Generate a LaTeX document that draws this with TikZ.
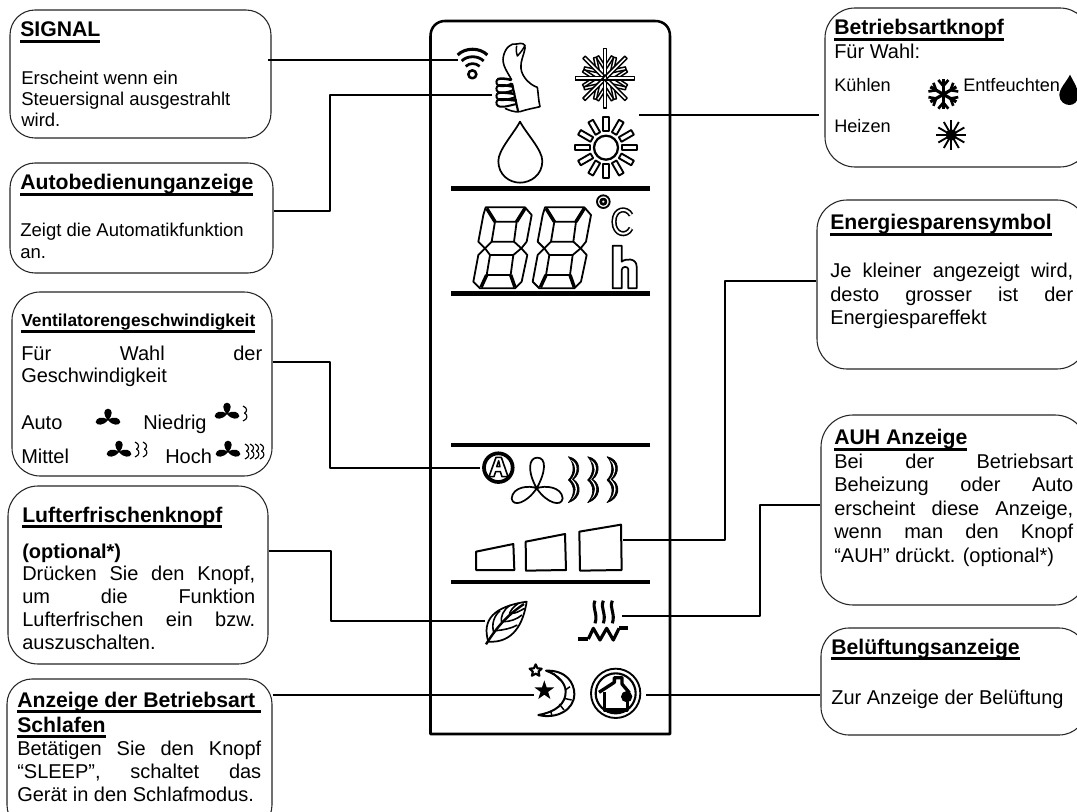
\documentclass[tikz,border=0pt]{standalone}
\usepackage{fontspec}
\setmainfont{Liberation Sans}
\usetikzlibrary{fit}
\newdimen\pxu \pxu=.75pt
\newcommand\ulin[1]{\setbox0\hbox{#1}\leavevmode\rlap{\raisebox{-4.2pt}{\rule{\wd0}{1.8pt}}}\box0}
% justified line: width in px, words separated by \hfill
\newcommand\jl[2]{\hbox to \dimexpr #1\pxu\relax{#2}}
\newcommand\para[7]{\node[txt] (#1) at (#2,#3) {\parbox[t]{260\pxu}{\fontsize{#4}{#5}\selectfont #6#7}};}
\newcommand\ttl[4]{\node[txt,font=\fontsize{15.9}{18}\selectfont\bfseries] (#1) at (#2,#3) {\ulin{#4}};}
\newcommand\fanfill[3]{\begin{scope}[shift={(#1,#2)},x=#3*0.25pt,y=-#3*0.25pt]
 \fill (0,0) .. controls (-30,-28) and (-26,-62) .. (0,-64) .. controls (26,-62) and (30,-28) .. (0,0)
  .. controls (35,-25) and (66,-12) .. (70,12) .. controls (62,34) and (25,32) .. (0,0)
  .. controls (-25,32) and (-62,34) .. (-70,12) .. controls (-66,-12) and (-35,-25) .. (0,0);
 \end{scope}}
\newcommand\wv[2]{\draw[line width=.85pt] (#1,#2-7) .. controls (#1+5,#2-5) and (#1+4,#2-1) .. (#1+1.5,#2) .. controls (#1+5,#2+2) and (#1+5,#2+6) .. (#1,#2+8);}
\newcommand\wave[1]{\begin{scope}[xshift=#1*0.25pt]
  \filldraw[fill=black,line width=.5pt] (445,80) .. controls (484,88) and (484,130) .. (460,148) .. controls (487,165) and (484,205) .. (445,218) .. controls (464,196) and (466,168) .. (445,150) .. controls (464,132) and (464,100) .. (445,80);
  \fill[white] (453,90) .. controls (475,100) and (475,128) .. (455,148) .. controls (477,165) and (475,192) .. (455,208) .. controls (470,190) and (472,168) .. (453,149) .. controls (470,130) and (470,105) .. (453,90);
 \end{scope}}
\tikzset{
 panel/.style={draw=black!85,line width=.8pt,rounded corners=#1,inner sep=0pt},
 panel/.default=25\pxu,
 txt/.style={anchor=base west,inner sep=0pt,align=left},
 conn/.style={line width=1.1pt,black},
 sep/.style={line width=3.6pt,black},
 lcd/.style={line width=1.35pt,black,line join=round},
 lcdthick/.style={line width=2.6pt,black},
}
\begin{document}
\begin{tikzpicture}[x=.75pt,y=-.75pt,line join=round]
\clip (0,0) rectangle (1077,812);
\fill[white] (0,0) rectangle (1077,812);

% ---- remote frame
\draw[line width=1.9pt] (430.5,734) -- (430.5,36) .. controls (430.5,27) and (437,21) .. (445,21) -- (655,21) .. controls (664,21) and (670,27) .. (670,36) -- (670,734) -- cycle;

% ---- boxes
\node[panel,fit={(10,10) (271,138)}] (bsignal) {};
\node[panel,fit={(10,163) (273,273)}] (bauto) {};
\node[panel=28\pxu,fit={(12,292) (272,476)}] (bvent) {};
\node[panel=30\pxu,fit={(8,486) (268,664)}] (bluft) {};
\node[panel=25\pxu,fit={(7,679) (272,830)}] (bsleep) {};
\node[panel=30\pxu,fit={(825,8) (1090,167)}] (bmode) {};
\node[panel=30\pxu,fit={(817,200) (1087,369)}] (bener) {};
\node[panel=32\pxu,fit={(821,415) (1087,605)}] (bauh) {};
\node[panel=28\pxu,fit={(821,628) (1087,735)}] (bbel) {};

% ---- connector end points
\coordinate (iwifi) at (458,60);
\coordinate (ithumb) at (492,95);
\coordinate (imode) at (639,115);
\coordinate (imodeb) at (819,115);
\coordinate (ia) at (480,468);
\coordinate (ibar) at (623,540);
\coordinate (ileaf) at (485,621);
\coordinate (iheat) at (622,616);
\coordinate (imoon) at (534,695);
\coordinate (ihouse) at (646,695);
\draw[conn] (268,60) -- (iwifi);
\draw[conn] (bauto.east |- 0,211) -| (330,95) -- (ithumb);
\draw[conn] (bvent.east |- 0,362) -| (330,468) -- (ia);
\draw[conn] (bluft.east |- 0,551) -| (331,621) -- (ileaf);
\draw[conn] (bsleep.east |- 0,695) -- (imoon);
\draw[conn] (imodeb) -- (imode);
\draw[conn] (bener.west |- 0,281) -| (725,540) -- (ibar);
\draw[conn] (bauh.west |- 0,505) -| (760,616) -- (iheat);
\draw[conn] (bbel.west |- 0,695) -- (ihouse);

% ---- separators
\draw[sep] (451,188.5) -- (650,188.5);
\draw[sep] (451,293.5) -- (650,293.5);
\draw[sep] (451,445) -- (650,445);
\draw[sep] (451,582) -- (650,582);

% ---- icons, upper part (coordinates of a 3x crop)
\begin{scope}[shift={(420,0)},x=.25pt,y=-.25pt]
 % wifi
 \draw[line width=2.3pt] (113,165) .. controls (135,142) and (180,142) .. (202,165);
 \draw[line width=2.1pt] (125,183) .. controls (142,166) and (174,166) .. (191,183);
 \draw[line width=2pt] (137,199) .. controls (150,188) and (166,188) .. (179,199);
 \draw[line width=1.9pt] (157,223) circle[radius=12];
 % thumb
 \draw[line width=1.2pt] (275,240) .. controls (262,215) and (245,195) .. (250,170) .. controls (255,145) and (272,128) .. (290,132) .. controls (305,128) and (318,130) .. (315,145) .. controls (312,165) and (300,185) .. (303,205) .. controls (305,230) and (330,255) .. (352,262) .. controls (355,280) and (355,300) .. (360,320) .. controls (340,325) and (320,328) .. (300,335) .. controls (285,338) and (265,330) .. (255,325);
 \draw[line width=1.1pt] (290,137) .. controls (288,150) and (288,160) .. (292,168) .. controls (300,160) and (312,145) .. (315,135);
 \foreach \yy/\xa in {248/275,268/280,290/285,310/290}{
  \draw[line width=1.9pt] (232,\yy-10) .. controls (240,\yy-14) and (260,\yy-12) .. (\xa,\yy-8);
  \draw[line width=1.5pt] (232,\yy-10) .. controls (226,\yy) and (230,\yy+8) .. (240,\yy+10) .. controls (255,\yy+12) and (270,\yy+6) .. (\xa,\yy+2);
 }
 \draw[line width=1.6pt] (276,250) -- (294,333);
 % snowflake
 \foreach \a in {0,45,...,315}{
  \begin{scope}[rotate around={\a:(555,235)}]
   \foreach \b in {-33,33}{
    \draw[line width=1.1pt,fill=white,rotate around={\b:(555,205)}] (550.5,205) rectangle (559.5,163);
   }
  \end{scope}
 }
 \foreach \a in {0,45,...,315}{
  \begin{scope}[rotate around={\a:(555,235)}]
   \draw[line width=1.1pt,fill=white] (550,235) -- (550,146) -- (560,146) -- (560,235);
  \end{scope}
 }
 \foreach \a in {0,90}{
   \draw[line width=1.1pt,rotate around={\a:(555,235)}] (550,235) -- (550,146) (560,235) -- (560,146);
 }
 % sun
 \draw[line width=1.7pt] (558,443) circle[radius=36];
 \foreach \a in {0,30,...,330}{
  \draw[line width=1.4pt,fill=white,rotate around={\a:(558,443)}] (550,351) rectangle (566,394);
 }
 % drop
 \draw[line width=1.3pt] (300,365) .. controls (280,402) and (235,450) .. (235,483) .. controls (235,525) and (268,548) .. (300,548) .. controls (332,548) and (367,525) .. (367,483) .. controls (367,450) and (320,402) .. (300,365) -- cycle;
\end{scope}

% ---- temperature digits
\begin{scope}[shift={(420,180)},x=.25pt,y=-.25pt]
 \foreach \dx in {0,178}{
  \begin{scope}[xshift=\dx*0.25pt]
   \draw[lcd] (197,82) -- (315,82) -- (335,105) -- (320,185) -- (304,205) -- (322,225) -- (305,305) -- (285,325) -- (180,325) -- (160,305) -- (175,225) -- (195,205) -- (175,185) -- (190,105) -- cycle;
   \draw[lcd] (225,125) -- (290,125) -- (282,185) -- (215,185) -- cycle;
   \draw[lcd] (210,225) -- (280,225) -- (272,285) -- (200,285) -- cycle;
   \draw[lcd] (195,205) -- (215,185) (195,205) -- (210,225) (304,205) -- (282,185) (304,205) -- (280,225);
   \draw[lcdthick] (200,85) -- (225,125) (315,85) -- (290,125) (183,322) -- (200,285) (285,322) -- (272,285);
  \end{scope}
 }
 % degree
 \draw[line width=1.4pt] (550,65) circle[radius=19];
 \draw[line width=2pt] (550,65) circle[radius=8];
 % C
 \draw[line width=1.2pt,double,double distance=1.5pt] (633,105) .. controls (620,80) and (582,85) .. (582,125) .. controls (582,165) and (620,172) .. (633,145);
 % h
 \draw[line width=1.3pt] (578,197) -- (605,197) -- (605,245) .. controls (615,236) and (650,232) .. (650,260) -- (650,325) -- (625,325) -- (625,268) .. controls (625,258) and (605,258) .. (605,270) -- (605,325) -- (578,325) -- cycle;
\end{scope}

% ---- fan row and bars
\begin{scope}[shift={(420,430)},x=.25pt,y=-.25pt]
 \draw[line width=2.8pt] (235,113) circle[radius=43];
 \draw[line width=1.2pt] (207,140) -- (228,82) -- (244,82) -- (264,140) -- (246,140) -- (241,125) -- (227,125) -- (222,140) -- cycle;
 \draw[line width=1.1pt] (230,110) -- (236,92) -- (240,110) -- cycle;
 \draw[line width=1.3pt] (350,175) .. controls (322,125) and (325,83) .. (352,83) .. controls (380,83) and (378,125) .. (350,175) .. controls (375,165) and (425,170) .. (428,205) .. controls (425,232) and (380,220) .. (350,175) .. controls (320,220) and (278,232) .. (275,205) .. controls (278,170) and (328,165) .. (350,175);
 \wave{0}\wave{58}\wave{116}
 \draw[line width=1.5pt] (168,365) -- (280,342) -- (283,420) -- (168,420) -- cycle;
 \draw[line width=1.5pt] (317,335) -- (435,312) -- (438,420) -- (318,422) -- cycle;
 \draw[line width=1.5pt] (478,305) -- (603,284) -- (605,420) -- (480,422) -- cycle;
\end{scope}

% ---- bottom icons
\begin{scope}[shift={(420,580)},x=.25pt,y=-.25pt]
 % leaf
 \draw[line width=1.3pt] (205,185) .. controls (185,120) and (220,80) .. (320,65) .. controls (310,130) and (280,190) .. (205,185);
 \draw[line width=1.8pt] (198,193) .. controls (225,150) and (255,110) .. (312,72);
 \draw[line width=1.2pt] (222,160) .. controls (212,130) and (225,105) .. (240,92) (245,130) .. controls (240,110) and (250,90) .. (270,76) (268,105) .. controls (268,95) and (280,80) .. (295,70) (228,152) .. controls (250,150) and (275,145) .. (292,135) (250,125) .. controls (270,125) and (290,118) .. (306,105) (275,100) .. controls (290,100) and (300,92) .. (314,85);
 % heater
 \foreach \xx in {525,550,577}{
  \draw[line width=2.3pt] (\xx,62) .. controls (\xx-10,85) and (\xx+10,100) .. (\xx,130);
 }
 \draw[line width=3pt] (473,177) -- (505,177);
 \draw[line width=2.4pt] (505,177) -- (520,145) -- (540,180) -- (560,145) -- (580,180) -- (597,145);
 \draw[line width=3pt] (597,145) -- (625,145);
 % stars and moon
 \draw[line width=1.6pt] plot[samples=11,domain=0:10,variable=\t] ({347+(mod(\t,2)==0?19:9)*sin(36*\t)},{272-(mod(\t,2)==0?19:9)*cos(36*\t)}) -- cycle;
 \fill plot[samples=11,domain=0:10,variable=\t] ({373+(mod(\t,2)==0?31:12)*sin(36*\t)},{332-(mod(\t,2)==0?31:12)*cos(36*\t)}) -- cycle;
 \draw[line width=1.5pt] (378,272) .. controls (440,270) and (463,310) .. (463,342) .. controls (463,390) and (410,418) .. (355,405) .. controls (410,395) and (437,370) .. (437,335) .. controls (437,310) and (415,285) .. (378,272) -- cycle;
 \draw[line width=1.1pt] (400,280) -- (420,300) (450,320) -- (436,330) (455,360) -- (432,355) (432,390) -- (418,372) (395,405) -- (392,392);
 % house circle
 \draw[line width=1.4pt] (587,340) circle[radius=74];
 \draw[line width=1.6pt] (587,340) circle[radius=60];
 \draw[line width=2.5pt] (537,337) -- (583,307) -- (583,293) -- (606,293) -- (606,312) -- (628,338);
 \draw[line width=2.5pt] (553,337) -- (553,390) -- (622,390) -- (622,355) ;
 \fill (620,350) circle[radius=17];
\end{scope}

% ---- text
\ttl{tsignal}{20}{37}{SIGNAL}
\para{psignal}{21}{85}{13.9}{15.75}{}{\hbox{Erscheint wenn ein}\hbox{Steuersignal ausgestrahlt}\hbox{wird.}}
\ttl{tauto}{20}{190}{Autobedienunganzeige}
\para{pauto}{20}{237}{13.9}{16.5}{}{\hbox{Zeigt die Automatikfunktion}\hbox{an.}}

\node[txt,font=\fontsize{13}{15}\selectfont\bfseries] (tvent) at (21,327) {\ulin{Ventilatorengeschwindigkeit}};
\para{pvent}{21}{361}{15}{16.5}{}{\jl{241}{Für\hfill Wahl\hfill der}\hbox{Geschwindigkeit}}
\node[txt,font=\fontsize{15}{17}\selectfont] (lauto) at (21,430) {Auto};
\node[txt,font=\fontsize{15}{17}\selectfont] (lnied) at (143,430) {Niedrig};
\node[txt,font=\fontsize{15}{17}\selectfont] (lmit) at (21,463) {Mittel};
\node[txt,font=\fontsize{15}{17}\selectfont] (lhoch) at (165,463) {Hoch};
\fanfill{108}{420}{.53}
\fanfill{227}{414}{.53}
\fanfill{119}{452}{.53}
\fanfill{228}{452}{.53}
\wv{243}{413}
\wv{135}{449}\wv{143}{449}
\wv{245}{451}\wv{250}{451}\wv{255}{451}\wv{260}{451}

\ttl{tluft}{22}{522}{Lufterfrischenknopf}
\node[txt,font=\fontsize{15}{17}\selectfont\bfseries] (tluftb) at (22,558) {(optional*)};
\para{pluft}{22}{580}{15}{17.25}{}{\jl{233}{Drücken\hfill Sie\hfill den\hfill Knopf,}\jl{233}{um\hfill die\hfill Funktion}\jl{233}{Lufterfrischen\hfill ein\hfill bzw.}\hbox{auszuschalten.}}

\node[txt,font=\fontsize{15.9}{18.75}\selectfont\bfseries] (tsleep) at (17,707) {\parbox[t]{260\pxu}{\hbox{\ulin{Anzeige der Betriebsart\ }}\hbox{\ulin{Schlafen}}}};
\para{psleep}{17}{755}{15}{17.6}{}{\jl{244}{Betätigen\hfill Sie\hfill den\hfill Knopf}\jl{244}{“SLEEP”,\hfill schaltet\hfill das}\hbox{Gerät in den Schlafmodus.}}

\ttl{tmode}{834}{35}{Betriebsartknopf}
\node[txt,font=\fontsize{15}{17}\selectfont] (pmode) at (834,59) {Für Wahl:};
\node[txt,font=\fontsize{13.6}{16}\selectfont] (lkuehl) at (834,92) {Kühlen};
\node[txt,font=\fontsize{13.6}{16}\selectfont] (lentf) at (963,92) {Entfeuchten};
\node[txt,font=\fontsize{13.6}{16}\selectfont] (lheiz) at (834,133) {Heizen};
% black snowflake
\begin{scope}[shift={(810,0)},x=.25pt,y=-.25pt]
 \foreach \a in {0,60,...,300}{
  \begin{scope}[rotate around={\a:(400,283)}]
   \draw[line width=2.4pt] (400,283) -- (400,238);
   \draw[line width=2pt] (385,240) -- (400,258) -- (415,240);
  \end{scope}
 }
 % black sun
 \fill (424,405) circle[radius=17];
 \foreach \a in {0,30,...,330}{
  \draw[line width=1.4pt,rotate around={\a:(424,405)}] (424,405) -- (424,360);
 }
 % black drop
 \fill (780,224) .. controls (770,245) and (748,265) .. (748,285) .. controls (748,305) and (765,315) .. (778,315) .. controls (792,315) and (805,305) .. (805,285) .. controls (805,265) and (790,245) .. (780,224) -- cycle;
\end{scope}

\ttl{tener}{830}{230}{Energiesparensymbol}
\para{pener}{830}{278}{15}{17.6}{}{\jl{243}{Je\hfill kleiner\hfill angezeigt\hfill wird,}\jl{243}{desto\hfill grosser\hfill ist\hfill der}\hbox{Energiespareffekt}}

\ttl{tauh}{834}{445}{AUH Anzeige}
\para{pauh}{834}{468}{15}{17.7}{}{\jl{239}{Bei\hfill der\hfill Betriebsart}\jl{239}{Beheizung\hfill oder\hfill Auto}\jl{239}{erscheint\hfill diese\hfill Anzeige,}\jl{239}{wenn\hfill man\hfill den\hfill Knopf}\hbox{“AUH” drückt. (optional*)}}

\ttl{tbel}{831}{654}{Belüftungsanzeige}
\node[txt,font=\fontsize{15}{17}\selectfont] (pbel) at (831,704) {Zur Anzeige der Belüftung};
\end{tikzpicture}
\end{document}
